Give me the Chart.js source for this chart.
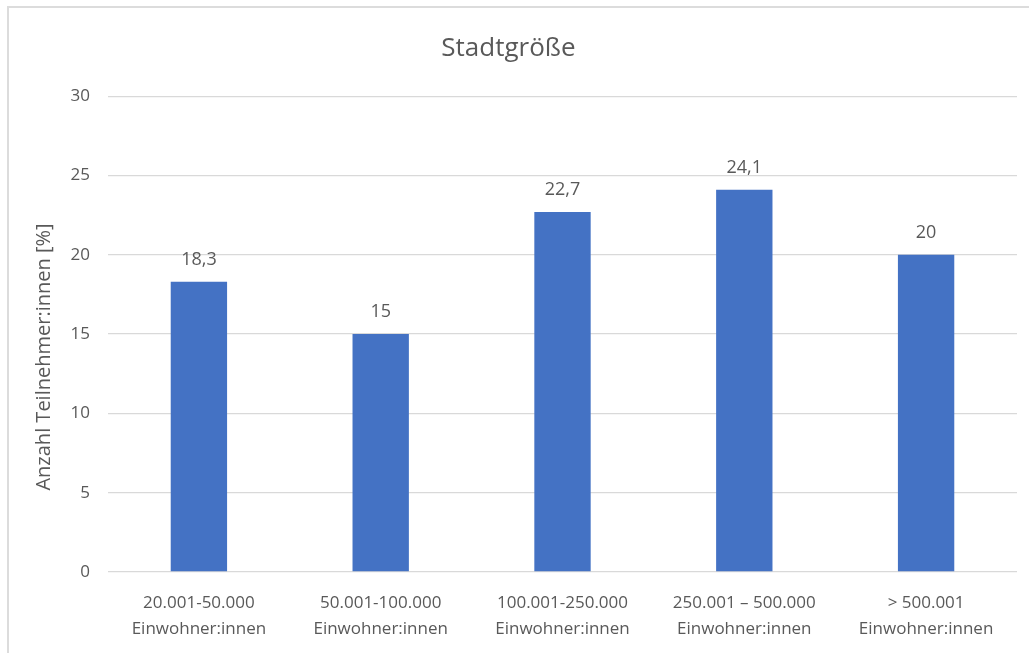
<!DOCTYPE html>
<html>
<head>
<meta charset="utf-8">
<script src="https://cdn.jsdelivr.net/npm/chart.js@4/dist/chart.umd.min.js"></script>
<style>
  html, body { margin: 0; padding: 0; background: #ffffff; }
  #wrap { position: relative; width: 1029px; height: 653px; overflow: hidden; }
  #frame { position: absolute; left: 7px; top: 6px; width: 1040px; height: 660px;
           border-left: 2px solid #dcdcdc; border-top: 2px solid #dcdcdc; box-sizing: border-box; }
  canvas { position: absolute; left: 0; top: 0; }
</style>
</head>
<body>
<div id="wrap">
  <div id="frame"></div>
  <canvas id="c" width="1029" height="653"></canvas>
</div>
<script>
// Stadtgröße der Teilnehmer:innen
const categories = [
  ["20.001-50.000", "Einwohner:innen"],
  ["50.001-100.000", "Einwohner:innen"],
  ["100.001-250.000", "Einwohner:innen"],
  ["250.001 \u2013 500.000", "Einwohner:innen"],
  ["> 500.001", "Einwohner:innen"]
];
const shares = [18.3, 15, 22.7, 24.1, 20];
const yTicks = [0, 5, 10, 15, 20, 25, 30];
const yAxisTitle = "Anzahl Teilnehmer:innen [%]";

const textColor = "#595959";
const fontFamily = "'Open Sans', sans-serif";

// German decimal comma for the value labels
const fmt = v => String(v).replace(".", ",");

const valueLabels = {
  id: "valueLabels",
  afterDatasetsDraw(chart) {
    const ctx = chart.ctx;
    const meta = chart.getDatasetMeta(0);
    ctx.save();
    ctx.fillStyle = textColor;
    ctx.font = "18px " + fontFamily;
    ctx.textAlign = "center";
    ctx.textBaseline = "middle";
    meta.data.forEach((bar, i) => {
      ctx.fillText(fmt(shares[i]), bar.x, bar.y - 22);
    });
    ctx.restore();
  }
};

// rotated y-axis caption, left of the tick labels
const yCaption = {
  id: "yCaption",
  afterDraw(chart) {
    const ctx = chart.ctx;
    ctx.save();
    ctx.translate(44, 357);
    ctx.rotate(-Math.PI / 2);
    ctx.fillStyle = textColor;
    ctx.font = "20px " + fontFamily;
    ctx.textAlign = "center";
    ctx.textBaseline = "middle";
    ctx.fillText(yAxisTitle, 0, 0);
    ctx.restore();
  }
};

new Chart(document.getElementById("c"), {
  type: "bar",
  data: {
    labels: categories,
    datasets: [{
      data: shares,
      backgroundColor: "#4472C4",
      categoryPercentage: 1,
      barPercentage: 0.31
    }]
  },
  options: {
    responsive: false,
    animation: false,
    devicePixelRatio: 1,
    layout: { padding: { left: 0, right: 12, top: 0, bottom: 0 } },
    plugins: {
      legend: { display: false },
      tooltip: { enabled: false },
      title: {
        display: true,
        text: "Stadtgröße",
        color: textColor,
        font: { family: fontFamily, size: 26, weight: "normal", lineHeight: 1.2 },
        padding: { top: 33, bottom: 32 }
      }
    },
    scales: {
      x: {
        grid: { display: false },
        border: { display: false },
        ticks: {
          color: textColor,
          font: { family: fontFamily, size: 17, lineHeight: 1.545 },
          padding: 10,
          maxRotation: 0,
          autoSkip: false
        },
        afterFit(s) { s.height = 81; }
      },
      y: {
        min: 0,
        max: 30,
        afterBuildTicks(s) { s.ticks = yTicks.map(v => ({ value: v })); },
        grid: { color: "#d9d9d9", lineWidth: 1.3, drawTicks: false },
        border: { display: false },
        ticks: {
          color: textColor,
          font: { family: fontFamily, size: 17 },
          padding: 18
        },
        afterFit(s) { s.width = 108; }
      }
    }
  },
  plugins: [valueLabels, yCaption]
});
</script>
</body>
</html>
